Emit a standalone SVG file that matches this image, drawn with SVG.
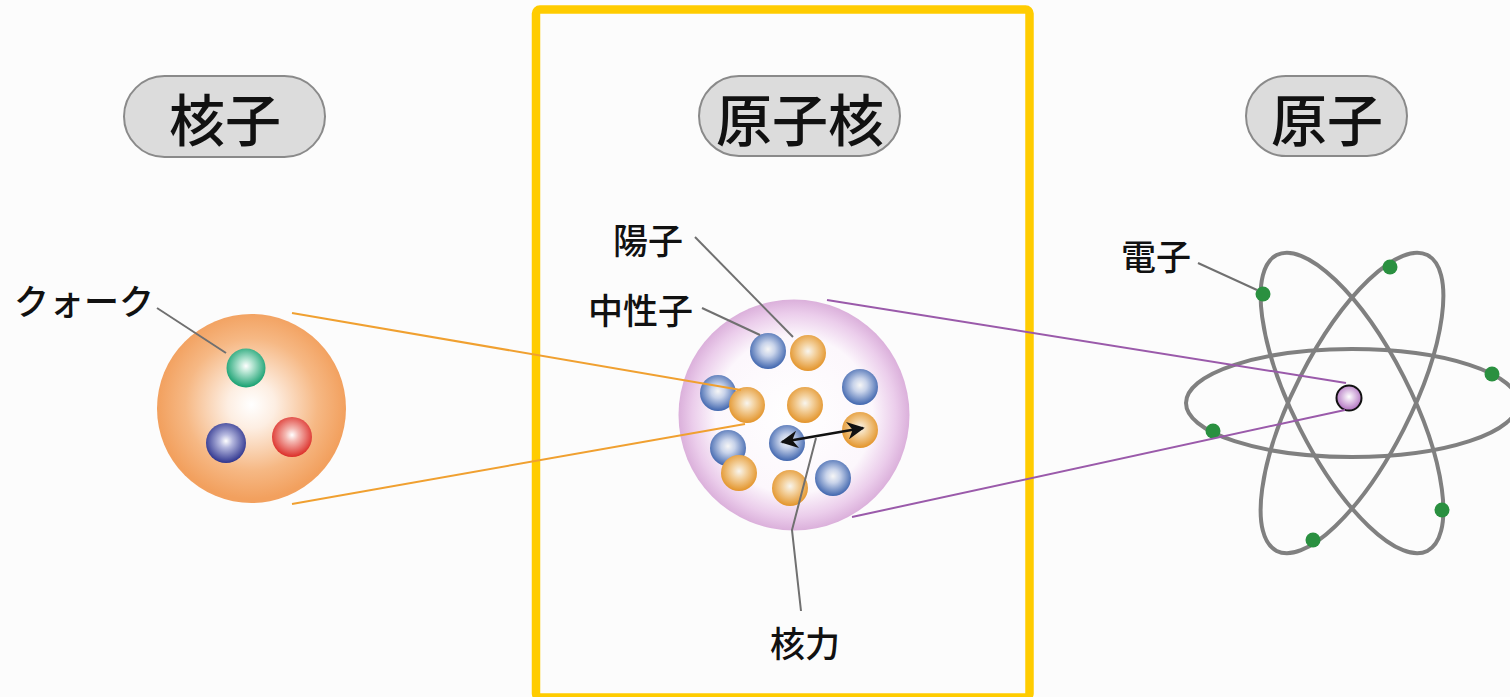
<svg xmlns="http://www.w3.org/2000/svg" width="1510" height="697" viewBox="0 0 1510 697">
  <style>
    .title { font-family: "Noto Sans CJK JP", "Noto Sans", sans-serif; font-size: 56px; font-weight: 500; fill: #111; text-anchor: middle; }
    .label { font-family: "Noto Sans CJK JP", "Noto Sans", sans-serif; font-size: 35px; font-weight: 500; fill: #111; }
    .pill { fill: #dcdcdc; stroke: #8a8a8a; stroke-width: 2; }
    .leader { stroke: #707070; stroke-width: 2; fill: none; }
    .link-orange { stroke: #f0a030; stroke-width: 2; fill: none; }
    .link-purple { stroke: #9a5aaa; stroke-width: 2; fill: none; }
    .orbit { fill: none; stroke: #808080; stroke-width: 4; }
    .electron { fill: #2a9040; }
  </style>
  <defs>
    <radialGradient id="gNucleon" cx="50%" cy="48%" r="50%">
      <stop offset="0" stop-color="#ffffff"/>
      <stop offset="0.25" stop-color="#fdeee2"/>
      <stop offset="0.7" stop-color="#f6b884"/>
      <stop offset="1" stop-color="#f2a05e"/>
    </radialGradient>
    <radialGradient id="gHalo" cx="50%" cy="50%" r="50%">
      <stop offset="0" stop-color="#ffffff"/>
      <stop offset="0.68" stop-color="#fcf7fc"/>
      <stop offset="0.88" stop-color="#ebcdeb"/>
      <stop offset="1" stop-color="#dbb0db"/>
    </radialGradient>
    <radialGradient id="gQuarkGreen" cx="50%" cy="45%" r="55%">
      <stop offset="0" stop-color="#ffffff"/>
      <stop offset="0.3" stop-color="#b8e6d4"/>
      <stop offset="1" stop-color="#16a070"/>
    </radialGradient>
    <radialGradient id="gQuarkBlue" cx="50%" cy="45%" r="55%">
      <stop offset="0" stop-color="#ffffff"/>
      <stop offset="0.3" stop-color="#b4b7de"/>
      <stop offset="1" stop-color="#2e348e"/>
    </radialGradient>
    <radialGradient id="gQuarkRed" cx="50%" cy="45%" r="55%">
      <stop offset="0" stop-color="#ffffff"/>
      <stop offset="0.3" stop-color="#f4b8b2"/>
      <stop offset="1" stop-color="#dc2e28"/>
    </radialGradient>
    <radialGradient id="gBlue" cx="50%" cy="45%" r="55%">
      <stop offset="0" stop-color="#f6f6f6"/>
      <stop offset="0.35" stop-color="#c8d3ea"/>
      <stop offset="1" stop-color="#3f65ae"/>
    </radialGradient>
    <radialGradient id="gOrange" cx="50%" cy="45%" r="55%">
      <stop offset="0" stop-color="#f8f5ee"/>
      <stop offset="0.35" stop-color="#f4d4a4"/>
      <stop offset="1" stop-color="#e3942a"/>
    </radialGradient>
    <radialGradient id="gCore" cx="50%" cy="45%" r="55%">
      <stop offset="0" stop-color="#ffffff"/>
      <stop offset="1" stop-color="#b070c0"/>
    </radialGradient>
    <marker id="arrow" viewBox="0 0 10 10" refX="9" refY="5" markerWidth="7" markerHeight="7" orient="auto-start-reverse">
      <path d="M0,0 L10,5 L0,10 L3,5 Z" fill="#111"/>
    </marker>
  </defs>

  <rect x="0" y="0" width="1510" height="697" fill="#fcfcfc"/>

  <!-- highlight frame around the nucleus column -->
  <rect id="frame" x="536" y="9.5" width="493.5" height="688" rx="4" fill="none" stroke="#ffcc00" stroke-width="8.5"/>

  <!-- column headings -->
  <g id="heading-nucleon">
    <rect class="pill" x="124" y="76" width="201" height="81" rx="40.5"/>
    <text class="title" x="225" y="141">核子</text>
  </g>
  <g id="heading-nucleus">
    <rect class="pill" x="699" y="76" width="201" height="80" rx="40"/>
    <text class="title" x="800" y="141">原子核</text>
  </g>
  <g id="heading-atom">
    <rect class="pill" x="1246" y="76" width="161" height="80" rx="40"/>
    <text class="title" x="1327" y="141">原子</text>
  </g>

  <!-- nucleon with three quarks -->
  <g id="nucleon">
    <circle cx="251.5" cy="408.5" r="94.5" fill="url(#gNucleon)"/>
    <circle cx="246" cy="368" r="19.5" fill="url(#gQuarkGreen)"/>
    <circle cx="226" cy="443" r="20" fill="url(#gQuarkBlue)"/>
    <circle cx="292" cy="437" r="20" fill="url(#gQuarkRed)"/>
  </g>

  <!-- nucleus: protons and neutrons -->
  <g id="nucleus">
    <circle cx="794" cy="415" r="115.5" fill="url(#gHalo)"/>
    <circle cx="768" cy="351" r="18" fill="url(#gBlue)"/>
    <circle cx="808" cy="353" r="18" fill="url(#gOrange)"/>
    <circle cx="718" cy="393" r="18" fill="url(#gBlue)"/>
    <circle cx="747" cy="405" r="18" fill="url(#gOrange)"/>
    <circle cx="805" cy="405" r="18" fill="url(#gOrange)"/>
    <circle cx="860" cy="387" r="18" fill="url(#gBlue)"/>
    <circle cx="860" cy="430" r="18" fill="url(#gOrange)"/>
    <circle cx="728" cy="448" r="18" fill="url(#gBlue)"/>
    <circle cx="787" cy="443" r="18" fill="url(#gBlue)"/>
    <circle cx="739" cy="473" r="18" fill="url(#gOrange)"/>
    <circle cx="790" cy="488" r="18" fill="url(#gOrange)"/>
    <circle cx="833" cy="478" r="18" fill="url(#gBlue)"/>
  </g>

  <!-- atom: orbits, electrons and core -->
  <g id="atom">
    <ellipse class="orbit" cx="1352" cy="403" rx="166" ry="54"/>
    <ellipse class="orbit" cx="1352" cy="403" rx="166" ry="58" transform="rotate(63 1352 403)"/>
    <ellipse class="orbit" cx="1352" cy="403" rx="166" ry="58" transform="rotate(-63 1352 403)"/>
    <circle class="electron" cx="1263" cy="294" r="7.5"/>
    <circle class="electron" cx="1390" cy="267" r="7.5"/>
    <circle class="electron" cx="1492" cy="374" r="7.5"/>
    <circle class="electron" cx="1213" cy="431" r="7.5"/>
    <circle class="electron" cx="1442" cy="510" r="7.5"/>
    <circle class="electron" cx="1313" cy="540" r="7.5"/>
    <circle cx="1349" cy="398" r="12.5" fill="url(#gCore)" stroke="#111" stroke-width="2"/>
  </g>

  <!-- connectors -->
  <g id="connectors">
    <line class="link-orange" x1="292" y1="313" x2="741" y2="390"/>
    <line class="link-orange" x1="292" y1="504" x2="745" y2="424"/>
    <line class="link-purple" x1="827" y1="300" x2="1346" y2="383"/>
    <line class="link-purple" x1="852" y1="517" x2="1345" y2="410"/>
    <line class="leader" x1="157" y1="308" x2="226" y2="353"/>
    <line class="leader" x1="695" y1="237" x2="793" y2="337"/>
    <line class="leader" x1="702" y1="308" x2="760" y2="335"/>
    <line class="leader" x1="1198" y1="263" x2="1257" y2="290"/>
    <polyline class="leader" points="816,438 792,530 801,611"/>
    <line x1="782" y1="442" x2="863" y2="428" stroke="#111" stroke-width="2.5" marker-start="url(#arrow)" marker-end="url(#arrow)"/>
  </g>

  <!-- labels -->
  <g id="labels">
    <text class="label" x="14" y="315">クォーク</text>
    <text class="label" x="613" y="254">陽子</text>
    <text class="label" x="588" y="324">中性子</text>
    <text class="label" x="1121" y="270">電子</text>
    <text class="label" x="770" y="657">核力</text>
  </g>
</svg>
